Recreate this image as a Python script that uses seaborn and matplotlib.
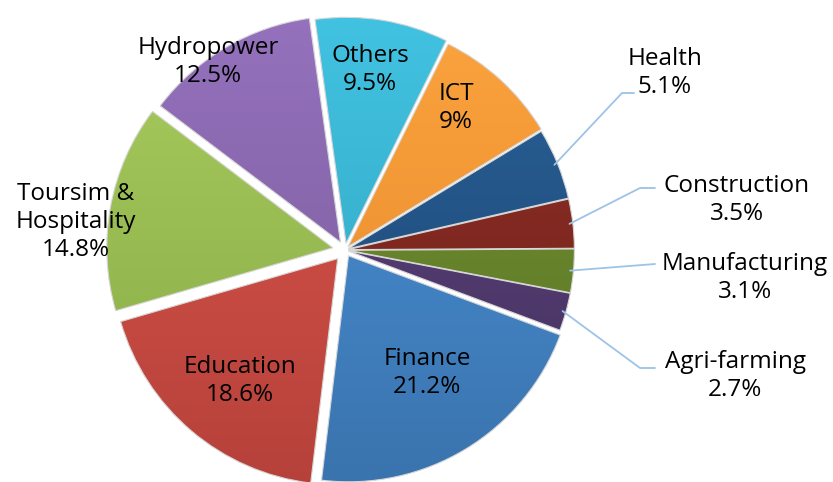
import numpy as np
import seaborn as sns
import matplotlib.pyplot as plt
from matplotlib.colors import LinearSegmentedColormap
from matplotlib.patches import Wedge

# sector shares (%), clockwise from the top
sectors = ["Others", "ICT", "Health", "Construction", "Manufacturing",
           "Agri-farming", "Finance", "Education", "Toursim &\nHospitality", "Hydropower"]
shares = [9.5, 9, 5.1, 3.5, 3.1, 2.7, 21.2, 18.6, 14.8, 12.5]
pct_labels = ["9.5%", "9%", "5.1%", "3.5%", "3.1%", "2.7%", "21.2%", "18.6%", "14.8%", "12.5%"]

# light (top) / dark (bottom) colour of each slice
light = ["#42c3e2", "#fba43e", "#2a6298", "#923129", "#76963a", "#5d467e",
         "#4b93da", "#dc564c", "#a9cd5e", "#9672be"]
dark = ["#2ea2bd", "#e6862a", "#1c4371", "#6c1f18", "#57711f", "#45305f",
        "#3a73ad", "#b5413a", "#86a946", "#775a98"]
explode = [0.03, 0.02, 0.015, 0.015, 0.015, 0.015, 0.03, 0.05, 0.055, 0.04]

sns.set_theme(style="white")
plt.rcParams['font.family'] = ['Open Sans', 'DejaVu Sans']

W, H = 833, 482
R = 226.0  # pie radius in pixels
cx, cy = 345, 250
fig = plt.figure(figsize=(W / 100, H / 100), dpi=100)
ax = fig.add_axes([0, 0, 1, 1])

wedges, _ = ax.pie(shares, startangle=97.9, counterclock=False, explode=explode,
                   colors=light, radius=1.0, wedgeprops=dict(linewidth=0))

grad = np.linspace(1, 0, 256).reshape(-1, 1)
for w, c0, c1 in zip(wedges, light, dark):
    cmap = LinearSegmentedColormap.from_list("g", [c1, c0])
    cxw, cyw = w.center
    im = ax.imshow(grad, cmap=cmap, extent=[cxw - 1.05, cxw + 1.05, cyw - 1.05, cyw + 1.05],
                   aspect='auto', zorder=2, origin='upper')
    im.set_clip_path(w)
    w.set_zorder(1)
    edge = Wedge(w.center, w.r, w.theta1, w.theta2, facecolor='none',
                 edgecolor='#d8d8d8', linewidth=0.8, zorder=3)
    ax.add_patch(edge)
ax.set_xlim(-cx / R, (W - cx) / R)
ax.set_ylim(-(H - cy) / R, cy / R)
ax.set_aspect('auto')
ax.axis('off')


def px(x, y):
    return (x - cx) / R, (cy - y) / R


fs = 17.5
# labels inside the big slices (pixel positions of text centres)
inside = {
    "Others": (370, 70), "ICT": (456, 108), "Finance": (427, 373),
    "Education": (240, 381), "Toursim &\nHospitality": (76, 222), "Hydropower": (208, 62),
}
for name, (x, y) in inside.items():
    i = sectors.index(name)
    ax.text(*px(x, y), f"{name}\n{pct_labels[i]}", ha='center', va='center',
            fontsize=fs, linespacing=1.25, color='black', zorder=5)

# small slices: labels outside with leader lines
outside = {
    "Health": ((665, 73), (622, 93), (634, 93)),
    "Construction": ((737, 200), (640, 188), (655, 188)),
    "Manufacturing": ((745, 278), (655, 264), (655, 264)),
    "Agri-farming": ((735, 376), (640, 368), (655, 368)),
}
for name, ((tx, ty), elbow, end) in outside.items():
    i = sectors.index(name)
    w = wedges[i]
    mid = np.deg2rad((w.theta1 + w.theta2) / 2)
    sx = w.center[0] + 0.985 * np.cos(mid)
    sy = w.center[1] + 0.985 * np.sin(mid)
    ex, ey = px(*elbow)
    fx, fy = px(*end)
    ax.plot([sx, ex, fx], [sy, ey, fy], color='#9dc3e6', lw=1.3, zorder=4)
    ax.text(*px(tx, ty), f"{name}\n{pct_labels[i]}", ha='center', va='center',
            fontsize=fs, linespacing=1.25, color='black', zorder=5)

fig.savefig("out.png", dpi=100)
